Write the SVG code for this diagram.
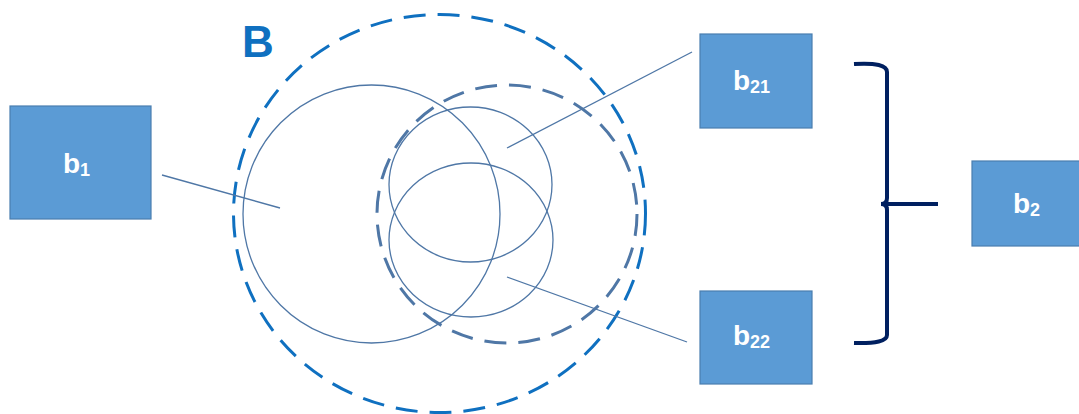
<svg xmlns="http://www.w3.org/2000/svg" width="1079" height="414" viewBox="0 0 1079 414">
<style>
.box{fill:#5B9BD5;stroke:#4A7EB0;stroke-width:1.2}
.lbl{font-family:"Liberation Sans",Arial,sans-serif;font-weight:bold;font-size:28px;fill:#FFFFFF}
.sub{font-size:18px}
.thin{fill:none;stroke:#4F77A6;stroke-width:1.3}
.conn{stroke:#4F77A6;stroke-width:1.3;fill:none}
</style>
<rect width="1079" height="414" fill="#FFFFFF"/>
<g id="setB">
<ellipse cx="439.5" cy="213.5" rx="206" ry="199" fill="none" stroke="#0F70C0" stroke-width="3" stroke-dasharray="22 12"/>
<text x="242" y="57" font-family="Liberation Sans,Arial,sans-serif" font-weight="bold" font-size="44" fill="#0F70C0">B</text>
</g>
<g id="circle-b1">
<ellipse class="thin" cx="371.5" cy="214" rx="128.5" ry="129"/>
</g>
<g id="set-b2">
<ellipse cx="507" cy="214" rx="130" ry="129" fill="none" stroke="#4F77A6" stroke-width="3" stroke-dasharray="22 12"/>
</g>
<g id="circle-b21">
<ellipse class="thin" cx="470.5" cy="184.5" rx="81.5" ry="77.5"/>
</g>
<g id="circle-b22">
<ellipse class="thin" cx="471" cy="240" rx="82" ry="77"/>
</g>
<g id="connectors">
<line class="conn" x1="162" y1="175" x2="280" y2="208"/>
<line class="conn" x1="507" y1="148" x2="692" y2="52"/>
<line class="conn" x1="507" y1="277" x2="687" y2="342"/>
<path d="M854 64 Q887 62 887 72 L887 198 Q887 204 881 204 Q887 204 887 210 L887 335 Q887 344 854 343 M883 204 L938 204" fill="none" stroke="#002060" stroke-width="4"/>
</g>
<g id="node-b1">
<rect class="box" x="10" y="106" width="141" height="113"/>
<text class="lbl" x="63" y="173">b<tspan class="sub" dy="3">1</tspan></text>
</g>
<g id="node-b21">
<rect class="box" x="700" y="34" width="112" height="94"/>
<text class="lbl" x="733" y="90">b<tspan class="sub" dy="3">21</tspan></text>
</g>
<g id="node-b22">
<rect class="box" x="700" y="291" width="112" height="93"/>
<text class="lbl" x="733" y="345">b<tspan class="sub" dy="3">22</tspan></text>
</g>
<g id="node-b2">
<rect class="box" x="972" y="161" width="110" height="85"/>
<text class="lbl" x="1013" y="213">b<tspan class="sub" dy="3">2</tspan></text>
</g>
</svg>
